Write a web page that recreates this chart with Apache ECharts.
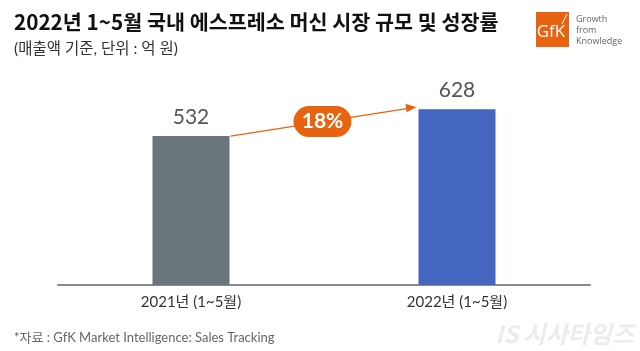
<!DOCTYPE html>
<html>
<head>
<meta charset="utf-8">
<script src="https://cdn.jsdelivr.net/npm/echarts@6/dist/echarts.min.js"></script>
<style>
  html, body { margin: 0; padding: 0; background: #fff; }
  #chart { width: 640px; height: 351px; }
</style>
</head>
<body>
<div id="chart"></div>
<script>
// 데이터
const categories = ['2021년 (1~5월)', '2022년 (1~5월)'];
const values = [532, 628];
const barColors = ['#6a767b', '#4466be'];
const growthLabel = '18%';

const FONT = 'Lato, "Noto Sans CJK KR", sans-serif';
const ORANGE = '#e8630f';

const chart = echarts.init(document.getElementById('chart'));

const option = {
    backgroundColor: '#fff',
    animation: false,
    title: [
        {
            text: '2022년 1~5월 국내 에스프레소 머신 시장 규모 및 성장률',
            left: 9, top: 7,
            textStyle: { fontFamily: '"Noto Sans CJK KR", sans-serif', fontSize: 20.7, fontWeight: 'bold', color: '#111' }
        },
        {
            text: '(매출액 기준, 단위 : 억 원)',
            left: 9, top: 36,
            textStyle: { fontFamily: FONT, fontSize: 15.5, fontWeight: 'normal', color: '#333' }
        },
        {
            text: '*자료 : GfK Market Intelligence: Sales Tracking',
            left: 9, top: 326,
            textStyle: { fontFamily: FONT, fontSize: 13, fontWeight: 'normal', color: '#666' }
        }
    ],
    grid: { left: 58, right: 50, top: 89, bottom: 66 },
    xAxis: {
        type: 'category',
        data: categories,
        axisLine: { lineStyle: { color: '#8a8a8a', width: 2 } },
        axisTick: { show: false },
        axisLabel: { fontFamily: FONT, fontSize: 15, color: '#333', margin: 10 }
    },
    yAxis: {
        type: 'value',
        min: 0, max: 700,
        show: false
    },
    series: [{
        type: 'bar',
        barWidth: 77,
        data: values.map((v, i) => ({ value: v, itemStyle: { color: barColors[i] } })),
        label: {
            show: true,
            position: 'top',
            distance: 8,
            fontFamily: FONT,
            fontSize: 21,
            color: '#555'
        }
    }]
};
chart.setOption(option);

// 성장률 화살표와 배지 (축 좌표에서 계산)
const p0 = chart.convertToPixel({ gridIndex: 0 }, [0, values[0]]);
const p1 = chart.convertToPixel({ gridIndex: 0 }, [1, values[1]]);
const half = 77 / 2;
const x0 = p0[0] + half + 1, y0 = p0[1];
const x1 = p1[0] - half - 2, y1 = p1[1] - 2;
const mx = (x0 + x1) / 2 - 1, my = (y0 + y1) / 2;

chart.setOption({
    graphic: [
        {
            type: 'line',
            shape: { x1: x0, y1: y0, x2: x1 - 8, y2: y1 + 1.3 },
            style: { stroke: ORANGE, lineWidth: 1.3 }
        },
        {
            type: 'polygon',
            shape: { points: [[x1, y1], [x1 - 11, y1 - 3.5], [x1 - 10, y1 + 5]] },
            style: { fill: ORANGE }
        },
        {
            type: 'rect',
            shape: { x: mx - 29, y: my - 15.5, width: 58, height: 31, r: 15.5 },
            style: { fill: ORANGE }
        },
        {
            type: 'text',
            x: mx, y: my,
            style: {
                text: growthLabel, fill: '#fff', font: 'bold 21px Lato, sans-serif',
                align: 'center', verticalAlign: 'middle'
            }
        },
        // GfK 로고
        {
            type: 'rect',
            shape: { x: 536, y: 12, width: 33, height: 35 },
            style: { fill: ORANGE }
        },
        {
            type: 'text',
            x: 551, y: 32,
            style: { text: 'GfK', fill: '#fff', font: '17px "Open Sans", sans-serif', align: 'center', verticalAlign: 'middle' }
        },
        {
            type: 'line',
            shape: { x1: 562, y1: 24, x2: 567, y2: 14 },
            style: { stroke: '#fff', lineWidth: 1 }
        },
        {
            type: 'text',
            x: 576, y: 14,
            style: { text: 'Growth\nfrom\nKnowledge', fill: '#666', font: '9px "Open Sans", sans-serif', lineHeight: 11 }
        },
        // 워터마크
        {
            type: 'text',
            x: 634, y: 334,
            style: {
                text: 'IS 시사타임즈', fill: '#ececec', font: 'italic bold 24px "Noto Sans CJK KR", sans-serif',
                align: 'right', verticalAlign: 'middle'
            }
        }
    ]
});
</script>
</body>
</html>
